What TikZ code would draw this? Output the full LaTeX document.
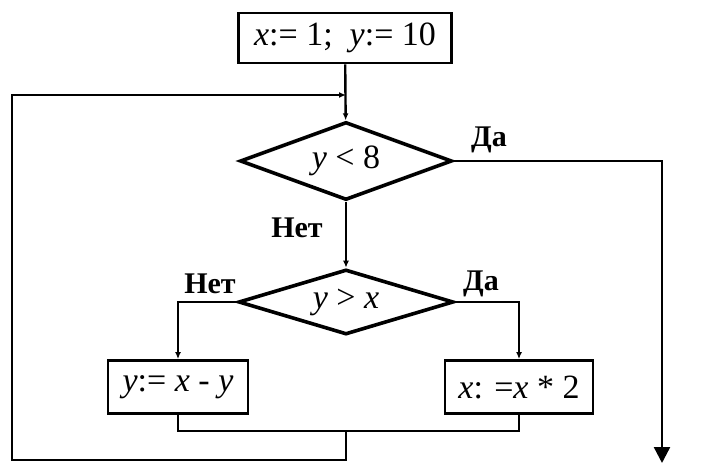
\documentclass[tikz,border=0pt]{standalone}
\usepackage{fontspec}
\setmainfont{Liberation Serif}
\usetikzlibrary{shapes.geometric,arrows.meta}

\begin{document}
\begin{tikzpicture}[x=0.5pt, y=-0.5pt,
    font=\fontsize{17}{19}\selectfont,
    blok/.style={rectangle, draw, line width=1.4pt, inner sep=0pt, minimum height=26.5pt},
    usl/.style={diamond, aspect=2.7, draw, line width=1.8pt, inner sep=0pt},
    lin/.style={line width=1.2pt},
    str/.style={lin, -{Latex[length=3.5pt,width=3pt]}},
    otvet/.style={font=\fontsize{15}{17}\selectfont\bfseries}]
    \useasboundingbox (0,0) rectangle (701,475);
    \node[blok, minimum width=106.5pt, minimum height=25pt] (init) at (345,38) {\textit{x}:= 1;\ \ \textit{y}:= 10};
    \node[usl, minimum width=106pt, minimum height=39pt] (usl1) at (346,161) {\textit{y} < 8};
    \node[usl, minimum width=107.5pt, minimum height=32.5pt] (usl2) at (346,302) {\textit{y} > \textit{x}};
    \node[blok, minimum width=70pt] (levo) at (178,387) {\textit{y}:= \textit{x} - \textit{y}};
    \node[blok, minimum width=74pt] (pravo) at (519,387) {\textit{x}: =\textit{x} * 2};
    % labels
    \node[otvet] (da1) at (489,140) {Да};
    \node[otvet] (net1) at (297,228) {Нет};
    \node[otvet] (net2) at (210,284) {Нет};
    \node[otvet] (da2) at (481,284) {Да};
    % points of the loop
    \coordinate (vhod) at (346,95);
    \coordinate (sliv) at (346,431);
    \coordinate (ugol) at (12,460);
    \coordinate (konec) at (662,463);
    % connectors
    \draw[str] (init) -- (usl1);
    \draw[str] (usl1) -- (usl2);
    \draw[str] (usl2.west) -| (levo.north);
    \draw[str] (usl2.east) -| (pravo.north);
    \draw[lin] (levo.south) |- (sliv) -| (pravo.south);
    \draw[str] (sliv) |- (ugol) |- (vhod);
    \draw[lin, -{Triangle[length=8pt,width=8pt]}] (usl1.east) -| (konec);
\end{tikzpicture}
\end{document}
